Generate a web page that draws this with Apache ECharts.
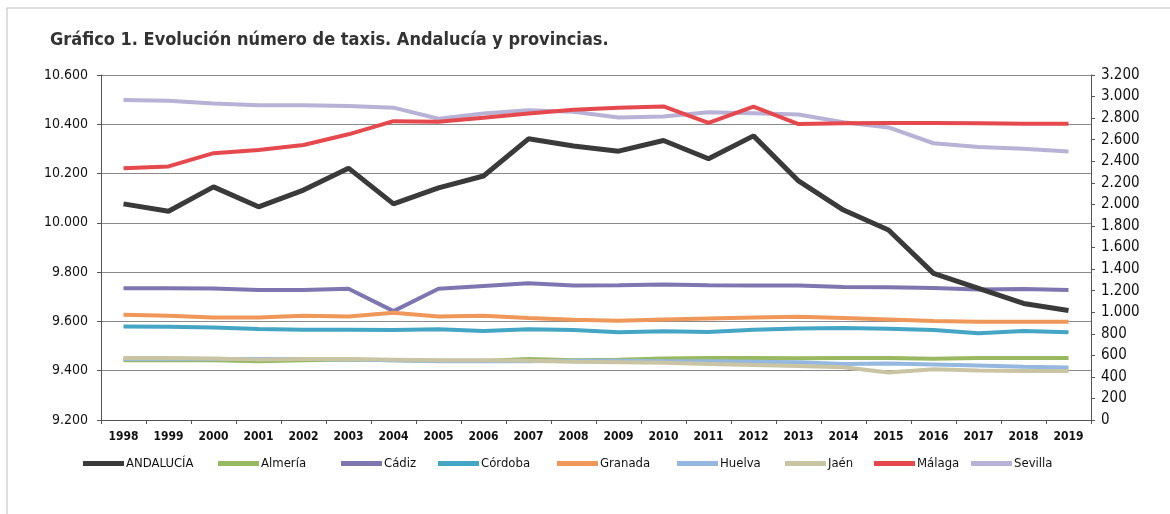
<!DOCTYPE html>
<html>
<head>
<meta charset="utf-8">
<script src="https://cdn.jsdelivr.net/npm/echarts@6/dist/echarts.min.js"></script>
<style>
html,body{margin:0;padding:0;background:#fff;}
#c{width:1170px;height:514px;}
</style>
</head>
<body>
<div id="c"></div>
<script>
const years = ['1998','1999','2000','2001','2002','2003','2004','2005','2006','2007','2008','2009','2010','2011','2012','2013','2014','2015','2016','2017','2018','2019'];
const andalucia = [10077,10047,10146,10065,10133,10222,10077,10142,10190,10341,10312,10291,10334,10260,10353,10170,10052,9971,9795,9734,9673,9644];
const almeria  = [555,555,555,545,555,560,555,550,548,565,555,560,570,575,575,572,575,575,568,575,575,575];
const cadiz    = [1223,1222,1220,1205,1205,1218,1010,1217,1243,1268,1247,1250,1256,1251,1248,1247,1233,1232,1224,1211,1215,1205];
const cordoba  = [868,864,859,843,837,837,835,842,826,842,835,814,823,817,836,848,854,846,835,804,826,813];
const granada  = [976,966,951,951,966,961,995,960,966,945,930,921,933,942,951,957,946,932,918,912,912,912];
const huelva   = [565,565,565,565,565,560,555,545,545,545,550,550,545,545,540,535,520,525,515,505,495,488];
const jaen     = [575,575,570,560,565,565,560,555,555,550,540,535,530,520,510,500,490,440,470,460,455,455];
const malaga   = [2334,2352,2475,2505,2551,2650,2772,2766,2803,2842,2878,2897,2908,2756,2906,2745,2753,2755,2754,2753,2747,2748];
const sevilla  = [2967,2961,2936,2920,2919,2912,2897,2794,2843,2873,2860,2805,2815,2854,2845,2833,2762,2714,2567,2532,2517,2491];
const leftMin = 9200, leftMax = 10600, rightMin = 0, rightMax = 3200, tickStep = 200;
const title = 'Gráfico 1. Evolución número de taxis. Andalucía y provincias.';

const names = ['ANDALUCÍA','Almería','Cádiz','Córdoba','Granada','Huelva','Jaén','Málaga','Sevilla'];
const colors = ['#3a3a3a','#98B960','#7E76B0','#45A5C5','#F0975A','#95B8E0','#C9C4A4','#E5484D','#B7B2D6'];
const dataSets = [andalucia, almeria, cadiz, cordoba, granada, huelva, jaen, malaga, sevilla];
const legendLeft = [78,213,336,433,552,672,780,869,966];

const fmt = v => String(v).replace(/\B(?=(\d{3})+(?!\d))/g, '.');
const FONT = "'Liberation Sans Narrow','DejaVu Sans Condensed','Liberation Sans',Arial,sans-serif";

const chart = echarts.init(document.getElementById('c'), null, {renderer:'canvas'});

const series = names.map((n,i)=>({
  name:n, type:'line', data:dataSets[i], yAxisIndex: i===0?0:1,
  symbol:'none', smooth:false,
  lineStyle:{color:colors[i], width: i===0?5:4},
  itemStyle:{color:colors[i]},
  z: i===0?5:(i===7?4:3),
  emphasis:{disabled:true}
}));
const ordered = series.slice(1).concat([series[0]]);

const legends = names.map((n,i)=>({
  data:[n], left:legendLeft[i], top:452, icon:'rect', itemWidth:41, itemHeight:5, itemGap:0,
  textStyle:{fontFamily:FONT, fontSize:13, color:'#111', padding:[0,0,0,-3]},
  selectedMode:false
}));

chart.setOption({
  backgroundColor:'#fff',
  animation:false,
  title:{text:title, left:45, top:26, textStyle:{fontFamily:FONT, fontSize:18, fontWeight:'bold', color:'#333'}},
  legend:legends,
  grid:{left:101, right:79, top:75, bottom:94, containLabel:false},
  xAxis:{type:'category', data:years, boundaryGap:true,
    axisLine:{lineStyle:{color:'#555', width:1}},
    axisTick:{show:true, length:4, lineStyle:{color:'#555'}},
    axisLabel:{fontFamily:FONT, fontSize:12, fontWeight:'bold', color:'#111', margin:11, interval:0}
  },
  yAxis:[
    {type:'value', min:leftMin, max:leftMax, interval:tickStep, position:'left',
     axisLine:{show:true, lineStyle:{color:'#555'}},
     axisTick:{show:true, length:4, lineStyle:{color:'#555'}},
     axisLabel:{formatter:fmt, fontFamily:FONT, fontSize:14, color:'#111', margin:13},
     splitLine:{show:true, lineStyle:{color:'#8a8a8a', width:1}}
    },
    {type:'value', min:rightMin, max:rightMax, interval:tickStep, position:'right',
     axisLine:{show:true, lineStyle:{color:'#555'}},
     axisTick:{show:true, length:4, lineStyle:{color:'#555'}},
     axisLabel:{formatter:fmt, fontFamily:FONT, fontSize:15, color:'#111', margin:10},
     splitLine:{show:false}
    }
  ],
  graphic:[{type:'rect', shape:{x:7, y:8, width:1200, height:600}, style:{fill:'none', stroke:'#bdbdbd', lineWidth:1}, silent:true, z:-1}],
  series:ordered
});
</script>
</body>
</html>
